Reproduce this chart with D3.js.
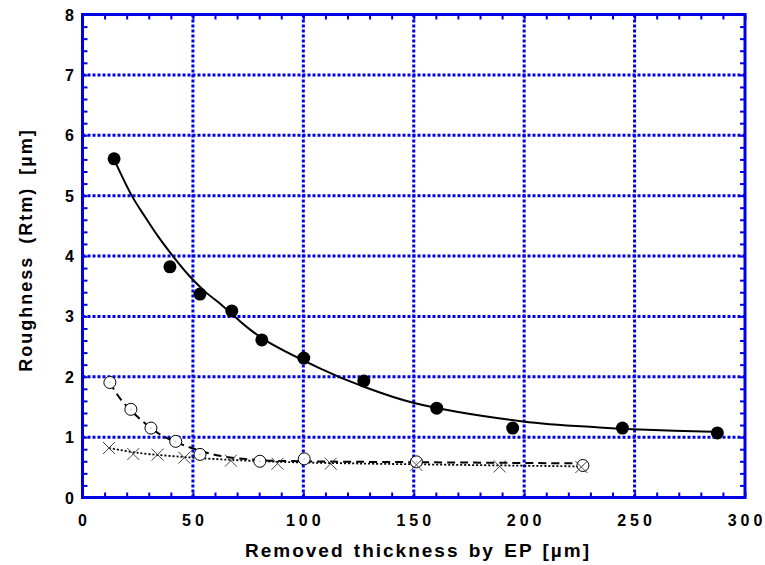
<!DOCTYPE html>
<html><head><meta charset="utf-8">
<script src="https://cdn.jsdelivr.net/npm/d3@7"></script>
<style>body{margin:0;background:#fff;}svg{display:block;font-family:"Liberation Sans",Arial,sans-serif;}</style>
</head><body><svg id="c" width="765" height="565"></svg>
<script>
// Filled circles (measured)
const filledX = [14.3, 39.6, 53.2, 67.6, 81.2, 100.2, 127.4, 160.4, 194.8, 244.5, 287.5];
const filledY = [5.61, 3.82, 3.37, 3.09, 2.61, 2.31, 1.93, 1.48, 1.15, 1.15, 1.07];
// Solid fit curve
const fitSolidX = [14.3, 22.3, 28.3, 34.3, 41.1, 47.9, 55.5, 63, 69.1, 81.2, 107.5, 127, 149.7, 199.5, 234, 249.2, 290];
const fitSolidY = [5.6, 5.0, 4.65, 4.32, 3.99, 3.69, 3.41, 3.19, 2.99, 2.64, 2.14, 1.84, 1.57, 1.26, 1.16, 1.13, 1.085];
// Open circles
const openX = [12.4, 21.9, 31.0, 42.2, 53.2, 80.3, 100.4, 151.2, 226.6];
const openY = [1.905, 1.46, 1.15, 0.93, 0.714, 0.60, 0.64, 0.59, 0.53];
// Dashed fit
const fitDashX = [12.4, 17, 22, 28.3, 35.8, 47.1, 62.2, 80, 100, 150, 226];
const fitDashY = [1.9, 1.64, 1.44, 1.23, 1.03, 0.85, 0.69, 0.62, 0.60, 0.585, 0.565];
// Crosses
const crossX = [12.0, 23.0, 34.0, 46.1, 67.2, 88.3, 112.4, 151.2, 188.9, 225.9];
const crossY = [0.82, 0.72, 0.71, 0.66, 0.61, 0.56, 0.56, 0.54, 0.515, 0.505];
// Dotted fit
const fitDotX = [12, 25, 50, 75, 100, 150, 226];
const fitDotY = [0.82, 0.74, 0.66, 0.61, 0.58, 0.55, 0.515];

const xTicks = [0, 50, 100, 150, 200, 250, 300];
const yTicks = [0, 1, 2, 3, 4, 5, 6, 7, 8];
const xTitle = "Removed thickness by EP [µm]";
const yTitle = "Roughness (Rtm) [µm]";

const svg = d3.select("#c");
const L = 82.5, R = 745, T = 14.5, B = 497.5;
const x = d3.scaleLinear().domain([0, 300]).range([L, R]);
const y = d3.scaleLinear().domain([0, 8]).range([B, T]);
const blue = "#0000e6";

// grid
const g = svg.append("g");
g.selectAll("line.gx").data(xTicks.slice(1, -1)).join("line")
  .attr("x1", d => x(d)).attr("x2", d => x(d)).attr("y1", T).attr("y2", B)
  .attr("stroke", blue).attr("stroke-width", 3).attr("stroke-dasharray", "3,2");
g.selectAll("line.gy").data(yTicks.slice(1, -1)).join("line")
  .attr("y1", d => y(d)).attr("y2", d => y(d)).attr("x1", L).attr("x2", R)
  .attr("stroke", blue).attr("stroke-width", 3).attr("stroke-dasharray", "3,2");

// minor ticks via axes
const xMinor = d3.range(0, 301, 10);
const yMinor = d3.range(0, 8.01, 0.2).map(v => +v.toFixed(1));
function styleAxis(sel) {
  sel.select(".domain").remove();
  sel.selectAll(".tick line").attr("stroke", blue).attr("stroke-width", 2);
  sel.selectAll(".tick text").remove();
}
svg.append("g").attr("transform", `translate(0,${B})`)
  .call(d3.axisBottom(x).tickValues(xMinor).tickSize(-5)).call(styleAxis);
svg.append("g").attr("transform", `translate(0,${T})`)
  .call(d3.axisTop(x).tickValues(xMinor).tickSize(-5)).call(styleAxis);
svg.append("g").attr("transform", `translate(${L},0)`)
  .call(d3.axisLeft(y).tickValues(yMinor).tickSize(-5)).call(styleAxis);
svg.append("g").attr("transform", `translate(${R},0)`)
  .call(d3.axisRight(y).tickValues(yMinor).tickSize(-5)).call(styleAxis);

// border
svg.append("rect").attr("x", L).attr("y", T).attr("width", R - L).attr("height", B - T)
  .attr("fill", "none").attr("stroke", blue).attr("stroke-width", 3);

// tick labels
svg.selectAll("text.xl").data(xTicks).join("text")
  .attr("x", d => x(d) + 2).attr("y", B + 28)
  .attr("text-anchor", "middle").attr("font-size", 16).attr("font-weight", "bold")
  .attr("letter-spacing", 4).text(d => d);
svg.selectAll("text.yl").data(yTicks).join("text")
  .attr("x", 74).attr("y", d => y(d) + 6)
  .attr("text-anchor", "end").attr("font-size", 16).attr("font-weight", "bold").text(d => d);

// titles
svg.append("text").attr("x", 418).attr("y", 557).attr("text-anchor", "middle")
  .attr("font-size", 19).attr("font-weight", "bold").attr("letter-spacing", 2)
  .attr("word-spacing", 2).text(xTitle);
svg.append("text").attr("transform", "translate(32,250) rotate(-90)").attr("text-anchor", "middle")
  .attr("font-size", 18).attr("font-weight", "bold").attr("letter-spacing", 2)
  .attr("word-spacing", 5).text(yTitle);

// lines
const line = (xs, ys) => d3.line().curve(d3.curveCatmullRom)
  .x((d, i) => x(xs[i])).y((d, i) => y(ys[i]))(xs);
svg.append("path").attr("d", line(fitSolidX, fitSolidY)).attr("fill", "none")
  .attr("stroke", "#000").attr("stroke-width", 2);
svg.append("path").attr("d", line(fitDashX, fitDashY)).attr("fill", "none")
  .attr("stroke", "#000").attr("stroke-width", 2).attr("stroke-dasharray", "8,5");
svg.append("path").attr("d", line(fitDotX, fitDotY)).attr("fill", "none")
  .attr("stroke", "#000").attr("stroke-width", 1.8).attr("stroke-dasharray", "2,2");

// markers
svg.selectAll("circle.f").data(filledX).join("circle")
  .attr("cx", d => x(d)).attr("cy", (d, i) => y(filledY[i])).attr("r", 6.5).attr("fill", "#000");
svg.selectAll("circle.o").data(openX).join("circle")
  .attr("cx", d => x(d)).attr("cy", (d, i) => y(openY[i])).attr("r", 6)
  .attr("fill", "#fff").attr("stroke", "#000").attr("stroke-width", 1);
svg.selectAll("circle.od").data(openX).join("circle")
  .attr("cx", d => x(d)).attr("cy", (d, i) => y(openY[i])).attr("r", 0.6).attr("fill", "#888");
const cs = 6;
svg.selectAll("path.x").data(crossX).join("path")
  .attr("d", (d, i) => {
    const cx = x(d), cy = y(crossY[i]);
    return `M${cx - cs},${cy - cs}L${cx + cs},${cy + cs}M${cx - cs},${cy + cs}L${cx + cs},${cy - cs}`;
  }).attr("stroke", "#444").attr("stroke-width", 1).attr("fill", "none");
</script></body></html>
